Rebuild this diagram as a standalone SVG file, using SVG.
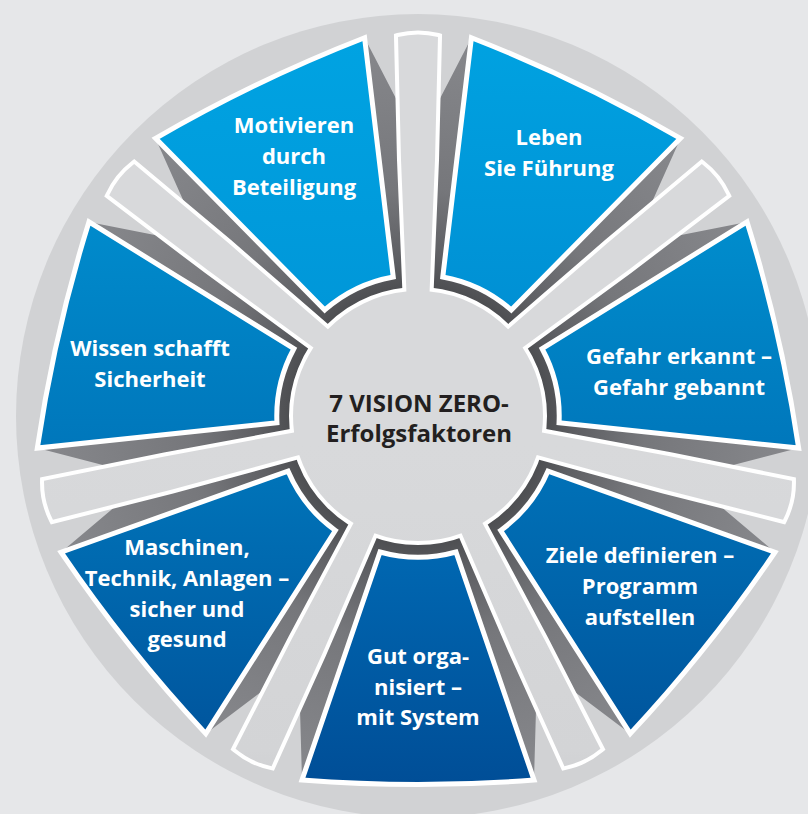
<svg xmlns="http://www.w3.org/2000/svg" width="808" height="814" viewBox="0 0 808 814">
<style>
.lbl{font-family:"Open Sans","Noto Sans","Liberation Sans",sans-serif;font-weight:700;font-size:22px;fill:#ffffff;text-anchor:middle}
.ctr{font-family:"Open Sans","Noto Sans","Liberation Sans",sans-serif;font-weight:700;font-size:24px;fill:#231f20;text-anchor:middle}
.face{stroke:#ffffff;stroke-width:5;stroke-linejoin:miter}
.base{fill:url(#shade)}
</style>
<defs>
<radialGradient id="shade" gradientUnits="userSpaceOnUse" cx="0" cy="0" r="380">
<stop offset="0.33" stop-color="#4c4d50"/>
<stop offset="0.42" stop-color="#5e5f63"/>
<stop offset="0.6" stop-color="#76777b"/>
<stop offset="1" stop-color="#87888c"/>
</radialGradient>
<linearGradient id="gray" gradientUnits="userSpaceOnUse" x1="0" y1="30" x2="0" y2="790">
<stop offset="0" stop-color="#d8d9db"/>
<stop offset="0.4" stop-color="#d3d4d6"/>
<stop offset="0.67" stop-color="#b9babd"/>
<stop offset="1" stop-color="#9fa0a3"/>
</linearGradient>
<linearGradient id="gGut" gradientUnits="userSpaceOnUse" x1="0" y1="129" x2="0" y2="366" gradientTransform="rotate(0)"><stop offset="0" stop-color="#0068b2"/><stop offset="1" stop-color="#004e97"/></linearGradient>
<linearGradient id="gMas" gradientUnits="userSpaceOnUse" x1="0" y1="54" x2="0" y2="304" gradientTransform="rotate(-51.4286)"><stop offset="0" stop-color="#0074b9"/><stop offset="1" stop-color="#00579f"/></linearGradient>
<linearGradient id="gWis" gradientUnits="userSpaceOnUse" x1="0" y1="-196" x2="0" y2="74" gradientTransform="rotate(-102.857)"><stop offset="0" stop-color="#008bcc"/><stop offset="1" stop-color="#0073b8"/></linearGradient>
<linearGradient id="gMot" gradientUnits="userSpaceOnUse" x1="0" y1="-380" x2="0" y2="-106" gradientTransform="rotate(-154.286)"><stop offset="0" stop-color="#00a3e2"/><stop offset="1" stop-color="#0097d9"/></linearGradient>
<linearGradient id="gLeb" gradientUnits="userSpaceOnUse" x1="0" y1="-380" x2="0" y2="-106" gradientTransform="rotate(-205.714)"><stop offset="0" stop-color="#00a2e1"/><stop offset="1" stop-color="#0090d4"/></linearGradient>
<linearGradient id="gGef" gradientUnits="userSpaceOnUse" x1="0" y1="-196" x2="0" y2="64" gradientTransform="rotate(-257.143)"><stop offset="0" stop-color="#008dcd"/><stop offset="1" stop-color="#0074b9"/></linearGradient>
<linearGradient id="gZie" gradientUnits="userSpaceOnUse" x1="0" y1="54" x2="0" y2="319" gradientTransform="rotate(-308.571)"><stop offset="0" stop-color="#0071b7"/><stop offset="1" stop-color="#00559d"/></linearGradient>
<path id="facePath" d="M -116,364 Q 0,373 116,364 L 38,136 A 141.2 141.2 0 0 1 -38,136 Z"/>
<path id="basePath" d="M 116,364 L 119.3,247.8 L 51.2,106.3 A 118 118 0 0 1 -51.2,106.3 L -119.3,247.8 L -116,364 Z"/>
<path id="spokePath" d="M -11,110 L -17,256 L -20,379 Q 0,384 20,379 L 17,256 L 11,110 Z"/>
<clipPath id="hubClip">
<circle cx="0" cy="0" r="125"/>
<use href="#spokePath" transform="rotate(25.714)"/>
<use href="#spokePath" transform="rotate(77.143)"/>
<use href="#spokePath" transform="rotate(128.571)"/>
<use href="#spokePath" transform="rotate(180)"/>
<use href="#spokePath" transform="rotate(231.429)"/>
<use href="#spokePath" transform="rotate(282.857)"/>
<use href="#spokePath" transform="rotate(334.286)"/>
</clipPath>
</defs>
<rect x="0" y="0" width="808" height="814" fill="#e6e7e9"/>
<circle cx="418" cy="416" r="402" fill="#d1d2d4"/>

<g id="node-motivieren">
<g transform="translate(418,416) rotate(154.286)">
<use href="#basePath" class="base"/>
<use href="#facePath" class="face" fill="url(#gMot)"/>
</g>
<text class="lbl" x="294" y="133"><tspan x="294">Motivieren</tspan><tspan x="294" dy="31">durch</tspan><tspan x="294" dy="31">Beteiligung</tspan></text>
</g>

<g id="node-leben">
<g transform="translate(418,416) rotate(205.714)">
<use href="#basePath" class="base"/>
<use href="#facePath" class="face" fill="url(#gLeb)"/>
</g>
<text class="lbl" x="549" y="145"><tspan x="549">Leben</tspan><tspan x="549" dy="31">Sie Führung</tspan></text>
</g>

<g id="node-gefahr">
<g transform="translate(418,416) rotate(257.143)">
<use href="#basePath" class="base"/>
<use href="#facePath" class="face" fill="url(#gGef)"/>
</g>
<text class="lbl" x="679" y="364"><tspan x="679">Gefahr erkannt –</tspan><tspan x="679" dy="31">Gefahr gebannt</tspan></text>
</g>

<g id="node-ziele">
<g transform="translate(418,416) rotate(308.571)">
<use href="#basePath" class="base"/>
<use href="#facePath" class="face" fill="url(#gZie)"/>
</g>
<text class="lbl" x="640" y="563"><tspan x="640">Ziele definieren –</tspan><tspan x="640" dy="31">Programm</tspan><tspan x="640" dy="31">aufstellen</tspan></text>
</g>

<g id="node-gut">
<g transform="translate(418,416)">
<use href="#basePath" class="base"/>
<use href="#facePath" class="face" fill="url(#gGut)"/>
</g>
<text class="lbl" x="418" y="664"><tspan x="418">Gut orga-</tspan><tspan x="418" dy="31">nisiert –</tspan><tspan x="418" dy="30">mit System</tspan></text>
</g>

<g id="node-maschinen">
<g transform="translate(418,416) rotate(51.4286)">
<use href="#basePath" class="base"/>
<use href="#facePath" class="face" fill="url(#gMas)"/>
</g>
<text class="lbl" x="187" y="555"><tspan x="187">Maschinen,</tspan><tspan x="187" dy="31">Technik, Anlagen –</tspan><tspan x="187" dy="31">sicher und</tspan><tspan x="187" dy="30">gesund</tspan></text>
</g>

<g id="node-wissen">
<g transform="translate(418,416) rotate(102.857)">
<use href="#basePath" class="base"/>
<use href="#facePath" class="face" fill="url(#gWis)"/>
</g>
<text class="lbl" x="150" y="356"><tspan x="150">Wissen schafft</tspan><tspan x="150" dy="31">Sicherheit</tspan></text>
</g>

<g id="spokes">
<g transform="translate(418,416)" fill="#ffffff" stroke="#ffffff" stroke-width="8" stroke-linejoin="miter">
<circle cx="0" cy="0" r="125"/>
<use href="#spokePath" transform="rotate(25.714)"/>
<use href="#spokePath" transform="rotate(77.143)"/>
<use href="#spokePath" transform="rotate(128.571)"/>
<use href="#spokePath" transform="rotate(180)"/>
<use href="#spokePath" transform="rotate(231.429)"/>
<use href="#spokePath" transform="rotate(282.857)"/>
<use href="#spokePath" transform="rotate(334.286)"/>
</g>
<g transform="translate(418,416)" clip-path="url(#hubClip)">
<rect x="-418" y="-416" width="808" height="814" fill="url(#gray)"/>
</g>
</g>

<g id="node-center">
<text class="ctr" x="419" y="412"><tspan x="419">7 VISION ZERO-</tspan><tspan x="419" dy="30">Erfolgsfaktoren</tspan></text>
</g>
</svg>
